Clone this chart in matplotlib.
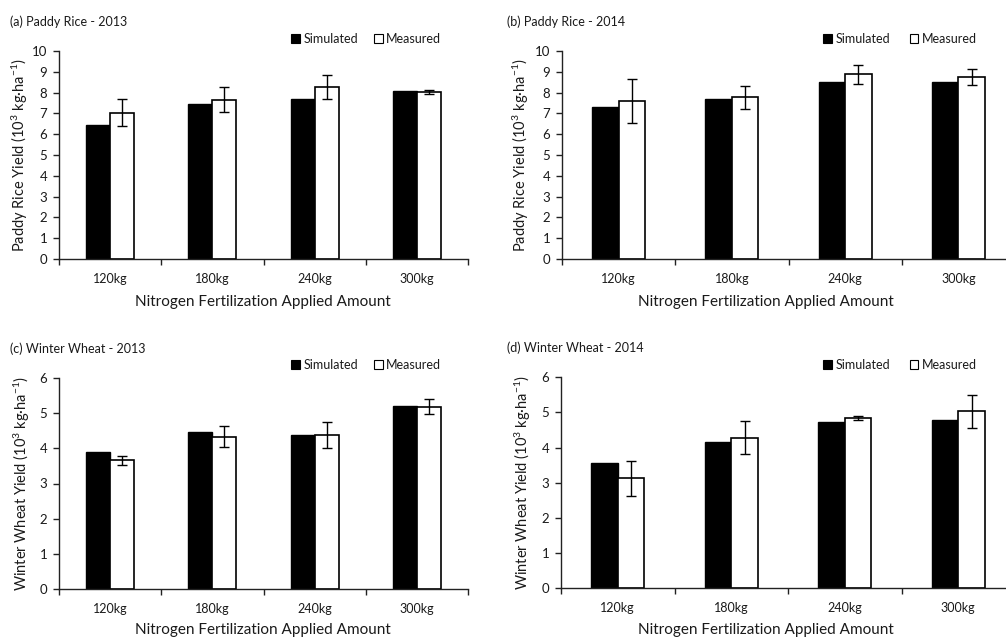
import matplotlib
matplotlib.use("Agg")
import matplotlib.pyplot as plt
from matplotlib.patches import Patch
import numpy as np

plt.rcParams['font.family'] = ['Lato', 'DejaVu Sans']
plt.rcParams['mathtext.fontset'] = 'custom'
plt.rcParams['mathtext.rm'] = 'Lato'
plt.rcParams['mathtext.it'] = 'Lato:italic'
plt.rcParams['mathtext.bf'] = 'Lato:bold'

categories = ["120kg", "180kg", "240kg", "300kg"]

rice2013_sim = [6.45, 7.47, 7.68, 8.10]
rice2013_meas = [7.04, 7.66, 8.26, 8.02]
rice2013_err = [0.66, 0.60, 0.57, 0.10]

rice2014_sim = [7.29, 7.68, 8.53, 8.53]
rice2014_meas = [7.60, 7.77, 8.88, 8.75]
rice2014_err = [1.07, 0.55, 0.45, 0.38]

wheat2013_sim = [3.90, 4.48, 4.39, 5.22]
wheat2013_meas = [3.66, 4.33, 4.37, 5.19]
wheat2013_err = [0.12, 0.30, 0.37, 0.22]

wheat2014_sim = [3.57, 4.17, 4.74, 4.78]
wheat2014_meas = [3.13, 4.28, 4.85, 5.03]
wheat2014_err = [0.50, 0.47, 0.05, 0.48]

titles = ["(a) Paddy Rice - 2013", "(b) Paddy Rice - 2014",
          "(c) Winter Wheat - 2013", "(d) Winter Wheat - 2014"]
ylabels = [r"Paddy Rice Yield (10$^{3}$ kg·ha$^{-1}$)",
           r"Paddy Rice Yield (10$^{3}$ kg·ha$^{-1}$)",
           r"Winter Wheat Yield (10$^{3}$ kg·ha$^{-1}$)",
           r"Winter Wheat Yield (10$^{3}$ kg·ha$^{-1}$)"]
xlabel = "Nitrogen Fertilization Applied Amount"
legend_labels = ["Simulated", "Measured"]

W, H = 1006, 637
fig = plt.figure(figsize=(W / 100, H / 100), dpi=100)

# axes rectangles in pixels: left, right, top(y max), bottom(y=0)
rects = [(59, 468, 51, 259), (562, 1015, 51, 259),
         (59, 468, 378.3, 588.7), (561, 1015, 377.3, 588.3)]
ymaxs = [10, 10, 6, 6]
title_pos = [(10, 22), (507, 22), (10, 348.5), (507, 348)]
legend_pos = [(291, 39), (823, 39), (291, 365), (823, 365)]
ylabel_x = [20, 521, 22, 523]
xlabel_pos = [(263, 302), (766, 302), (263, 630), (766, 630)]
colspace = [1.25, 1.55, 1.25, 1.55]
data = [(rice2013_sim, rice2013_meas, rice2013_err),
        (rice2014_sim, rice2014_meas, rice2014_err),
        (wheat2013_sim, wheat2013_meas, wheat2013_err),
        (wheat2014_sim, wheat2014_meas, wheat2014_err)]

w = 0.235
x = np.arange(len(categories))
axis_color = "#222222"
text_color = "#1a1a1a"

for k in range(4):
    l, r, t, b = rects[k]
    ax = fig.add_axes([l / W, 1 - b / H, (r - l) / W, (b - t) / H])
    sim, meas, err = data[k]
    ax.bar(x - w / 2, sim, w, color="black", edgecolor="black", linewidth=1.0, zorder=2)
    ax.bar(x + w / 2, meas, w, color="white", edgecolor="black", linewidth=1.2, zorder=2)
    ax.errorbar(x + w / 2, meas, yerr=err, fmt="none", ecolor="black",
                elinewidth=1.0, capsize=3.5, capthick=1.0, zorder=3)
    ax.set_xlim(-0.5, len(categories) - 0.5)
    ax.set_ylim(0, ymaxs[k])
    ax.set_yticks(np.arange(0, ymaxs[k] + 1, 1))
    ax.set_xticks(np.arange(-0.5, len(categories), 1.0))
    ax.set_xticklabels([])
    ax.set_xticks(x, minor=True)
    ax.set_xticklabels(categories, minor=True)
    ax.tick_params(axis="x", which="major", length=4.5, width=1.0, color=axis_color, direction="out")
    ax.tick_params(axis="x", which="minor", length=0, pad=10, labelsize=9, labelcolor=text_color)
    ax.tick_params(axis="y", length=4.5, width=1.0, color=axis_color, pad=4, labelsize=9.5,
                   labelcolor=text_color)
    for s in ["top", "right"]:
        ax.spines[s].set_visible(False)
    for s in ["left", "bottom"]:
        ax.spines[s].set_color(axis_color)
        ax.spines[s].set_linewidth(1.0)
    ax.set_ylabel(ylabels[k], fontsize=10.5, color=text_color, va="center", ha="center")
    ax.yaxis.set_label_coords((ylabel_x[k] - l) / (r - l), 0.5)
    ax.set_xlabel(xlabel, fontsize=11, color=text_color, va="center", ha="center")
    xlx, xly = xlabel_pos[k]
    ax.xaxis.set_label_coords((xlx - l) / (r - l), (b - xly) / (b - t))
    tx, ty = title_pos[k]
    fig.text(tx / W, 1 - ty / H, titles[k], fontsize=9, color=text_color, va="center", ha="left")
    handles = [Patch(facecolor="black", edgecolor="black", linewidth=0.8),
               Patch(facecolor="white", edgecolor="black", linewidth=0.8)]
    lx, ly = legend_pos[k]
    fig.legend(handles, legend_labels, loc="center left",
               bbox_to_anchor=(lx / W, 1 - ly / H), ncol=2, frameon=False,
               fontsize=9, handlelength=0.7, handleheight=0.7, handletextpad=0.3,
               columnspacing=colspace[k], borderpad=0, borderaxespad=0,
               labelcolor=text_color)

fig.savefig("out.png", dpi=100)
